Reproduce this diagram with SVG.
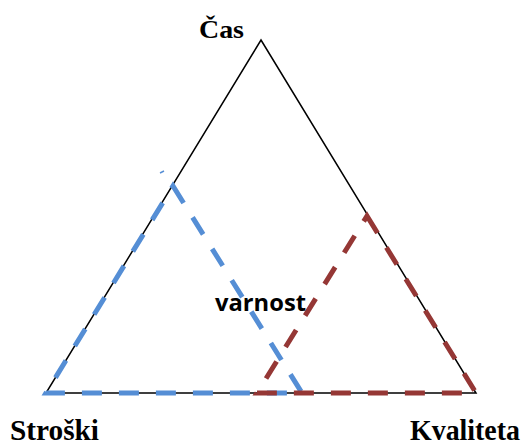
<svg xmlns="http://www.w3.org/2000/svg" width="527" height="446" viewBox="0 0 527 446">
<style>
.lbl{font-family:'Liberation Serif','Times New Roman','DejaVu Serif',serif;font-weight:bold;fill:#000}
.tri{fill:none;stroke:#000;stroke-width:1.5}
.dash{fill:none;stroke-width:5;stroke-dasharray:20 17;stroke-linejoin:miter}
.blue{stroke:#558ED5}
.red{stroke:#953735}
</style>
<rect width="527" height="446" fill="#fff"/>
<g id="triangle">
<polygon class="tri" points="261,40 476,393 46,393"/>
</g>
<g id="connectors">
<path id="blue-triangle" class="dash blue" d="M173,186 L302,393 L46,393 Z"/>
<path id="red-triangle" class="dash red" d="M367,216 L476,393 L257,393 Z"/>
<line x1="160" y1="173" x2="164" y2="171" stroke="#558ED5" stroke-width="1.5"/>
</g>
<g id="label-cas"><text class="lbl" x="199" y="38" font-size="25" textLength="45" lengthAdjust="spacingAndGlyphs">Čas</text></g>
<g id="label-stroski"><text class="lbl" x="10" y="440" font-size="30" textLength="89" lengthAdjust="spacingAndGlyphs">Stroški</text></g>
<g id="label-kvaliteta"><text class="lbl" x="410" y="440" font-size="30" textLength="110" lengthAdjust="spacingAndGlyphs">Kvaliteta</text></g>
<g id="label-varnost"><text x="215" y="311" font-family="'Open Sans','Liberation Sans',sans-serif" font-weight="bold" font-size="23" textLength="91" lengthAdjust="spacingAndGlyphs" fill="#000">varnost</text></g>
</svg>
